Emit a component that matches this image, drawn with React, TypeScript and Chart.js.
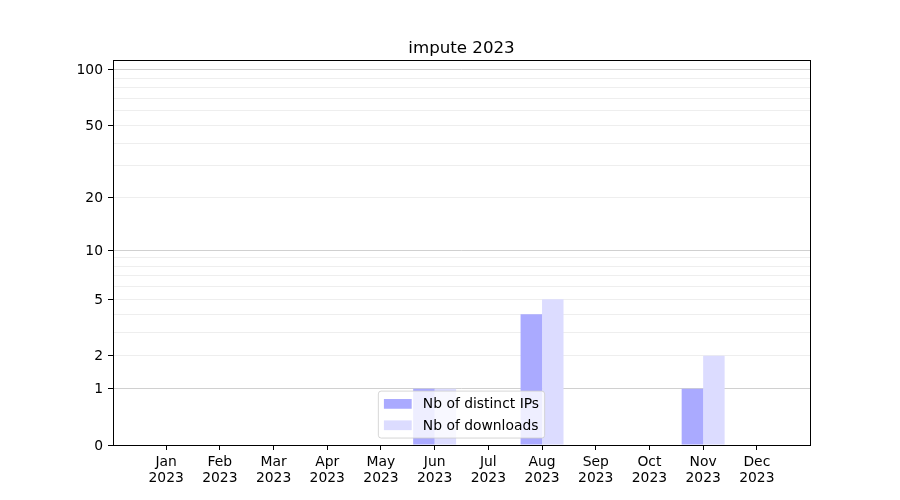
import React, { useEffect, useRef } from 'react';
import { Chart, registerables, LinearScale } from 'chart.js';

// ---------- data ----------
const TITLE = 'impute 2023';
const MONTHS = ['Jan', 'Feb', 'Mar', 'Apr', 'May', 'Jun', 'Jul', 'Aug', 'Sep', 'Oct', 'Nov', 'Dec'];
const YEAR = '2023';
const SERIES_LABELS = ['Nb of distinct IPs', 'Nb of downloads'];
const DISTINCT_IPS = [0, 0, 0, 0, 0, 1, 0, 4, 0, 0, 1, 0];
const DOWNLOADS = [0, 0, 0, 0, 0, 1, 0, 5, 0, 0, 2, 0];
const Y_LABELED_TICKS = [0, 1, 2, 5, 10, 20, 50, 100];
const Y_MAJOR_GRID = [1, 10, 100];
const Y_MINOR_GRID = [2, 3, 4, 5, 6, 7, 8, 9, 20, 30, 40, 50, 60, 70, 80, 90];
const Y_MIN = 0;
const Y_MAX = 113;
const X_MIN = -0.99;
const X_MAX = 11.99;

const COLORS = ['#aaaaff', '#dcdcff'];
const FONT = '"DejaVu Sans", "Liberation Sans", sans-serif';
const FS = 13.89;
const TITLE_FS = 16.67;

const ALL_Y_TICKS = Array.from(new Set([0, ...Y_MAJOR_GRID, ...Y_MINOR_GRID])).sort((a, b) => a - b);

// ---------- log(1+x) scale ----------
class Log1pScale extends LinearScale {
  static id = 'log1p';
  static defaults = {};

  configure() {
    super.configure();
    (this as any)._t0 = Math.log10(1 + (this as any).min);
    (this as any)._t1 = Math.log10(1 + (this as any).max);
  }

  buildTicks() {
    const self = this as any;
    self.start = self.min;
    self.end = self.max;
    return ALL_Y_TICKS.filter((v) => v >= self.min && v <= self.max).map((v) => ({ value: v }));
  }

  getPixelForValue(value: any) {
    if (value === null || value === undefined || isNaN(value)) return NaN;
    const self = this as any;
    const t = Math.log10(1 + value);
    return this.getPixelForDecimal((t - self._t0) / (self._t1 - self._t0));
  }

  getValueForPixel(pixel: number) {
    const self = this as any;
    const d = this.getDecimalForPixel(pixel);
    return Math.pow(10, self._t0 + d * (self._t1 - self._t0)) - 1;
  }
}

Chart.register(...registerables, Log1pScale);

// ---------- title + frame + legend plugin ----------
const frameLegendPlugin = {
  id: 'frameLegend',
  afterDraw(chart: any) {
    const { ctx, chartArea: a } = chart;
    ctx.save();
    // spines
    ctx.strokeStyle = '#000';
    ctx.lineWidth = 1;
    const l = Math.floor(a.left) + 0.5;
    const t = Math.floor(a.top) + 0.5;
    const r = Math.floor(a.right) + 0.5;
    const b = Math.floor(a.bottom) + 0.5;
    ctx.strokeRect(l, t, r - l, b - t);

    // title centred over the axes
    ctx.font = `${TITLE_FS}px ${FONT}`;
    ctx.fillStyle = '#000';
    ctx.textAlign = 'center';
    ctx.textBaseline = 'alphabetic';
    ctx.fillText(TITLE, (a.left + a.right) / 2, a.top - 7.5);

    // legend (lower center, inside axes)
    ctx.font = `${FS}px ${FONT}`;
    const pad = 0.4 * FS;
    const handleLen = 2 * FS;
    const handleH = 0.7 * FS;
    const textPad = 0.8 * FS;
    const spacing = 0.5 * FS;
    const rowH = 14.45;
    const axesPad = 0.5 * FS;
    const items = chart.data.datasets.map((ds: any) => ({ label: ds.label, color: ds.backgroundColor }));
    const textW = Math.max(...items.map((it: any) => ctx.measureText(it.label).width));
    const w = pad * 2 + handleLen + textPad + textW;
    const h = pad * 2 + items.length * rowH + (items.length - 1) * spacing;
    const x0 = (a.left + a.right) / 2 - w / 2;
    const y0 = a.bottom - axesPad - h;
    ctx.beginPath();
    ctx.roundRect(x0, y0, w, h, 2.8);
    ctx.fillStyle = 'rgba(255,255,255,0.8)';
    ctx.fill();
    ctx.strokeStyle = 'rgba(204,204,204,0.8)';
    ctx.lineWidth = 1;
    ctx.stroke();
    items.forEach((it: any, i: number) => {
      const cy = y0 + pad + i * (rowH + spacing) + rowH / 2;
      ctx.fillStyle = it.color;
      ctx.fillRect(x0 + pad, cy - handleH / 2, handleLen, handleH);
      ctx.fillStyle = '#000';
      ctx.textAlign = 'left';
      ctx.textBaseline = 'middle';
      ctx.fillText(it.label, x0 + pad + handleLen + textPad, cy + 1);
    });
    ctx.restore();
  },
};

export default function App() {
  const canvasRef = useRef<HTMLCanvasElement | null>(null);

  useEffect(() => {
    const canvas = canvasRef.current;
    if (!canvas) return;
    const chart = new Chart(canvas, {
      type: 'bar',
      data: {
        datasets: [
          {
            label: SERIES_LABELS[0],
            data: DISTINCT_IPS.map((v, i) => ({ x: i, y: v })),
            backgroundColor: COLORS[0],
            borderWidth: 0,
          },
          {
            label: SERIES_LABELS[1],
            data: DOWNLOADS.map((v, i) => ({ x: i, y: v })),
            backgroundColor: COLORS[1],
            borderWidth: 0,
          },
        ],
      },
      options: {
        animation: false,
        responsive: false,
        devicePixelRatio: 1,
        events: [],
        layout: { padding: { left: 0, right: 90, top: 60, bottom: 0 } },
        datasets: { bar: { categoryPercentage: 0.8, barPercentage: 1.0 } },
        plugins: {
          legend: { display: false },
          tooltip: { enabled: false },
          title: { display: false },
        },
        scales: {
          x: {
            type: 'linear',
            min: X_MIN,
            max: X_MAX,
            offset: false,
            border: { display: false },
            grid: {
              display: true,
              offset: false,
              drawOnChartArea: false,
              drawTicks: true,
              tickLength: 5,
              tickColor: '#000',
              tickWidth: 1,
            },
            afterBuildTicks: (scale: any) => {
              scale.ticks = MONTHS.map((_, i) => ({ value: i }));
            },
            afterFit: (scale: any) => {
              scale.height = 55;
            },
            ticks: {
              autoSkip: false,
              maxRotation: 0,
              minRotation: 0,
              padding: 4,
              color: '#000',
              font: { family: FONT, size: FS, lineHeight: 1.15 },
              callback: (value: any) => {
                const i = Math.round(Number(value));
                return MONTHS[i] !== undefined ? [MONTHS[i], YEAR] : '';
              },
            },
          },
          y: {
            type: 'log1p' as any,
            min: Y_MIN,
            max: Y_MAX,
            z: 1,
            border: { display: false },
            grid: {
              display: true,
              drawTicks: true,
              tickLength: 5,
              lineWidth: 1,
              tickWidth: 1,
              color: (c: any) => {
                const v = c.tick ? c.tick.value : NaN;
                if (Y_MAJOR_GRID.includes(v)) return 'rgba(176,176,176,0.6)';
                if (Y_MINOR_GRID.includes(v)) return 'rgba(176,176,176,0.22)';
                return 'rgba(0,0,0,0)';
              },
              tickColor: (c: any) => {
                const v = c.tick ? c.tick.value : NaN;
                return Y_LABELED_TICKS.includes(v) ? '#000' : 'rgba(0,0,0,0)';
              },
            },
            afterFit: (scale: any) => {
              scale.width = 113;
            },
            ticks: {
              autoSkip: false,
              padding: 5,
              labelOffset: 1,
              color: '#000',
              font: { family: FONT, size: FS },
              callback: (value: any) => (Y_LABELED_TICKS.includes(Number(value)) ? String(value) : ''),
            },
          },
        },
      },
      plugins: [frameLegendPlugin],
    } as any);
    return () => chart.destroy();
  }, []);

  return (
    <div style={{ position: 'absolute', left: 0, top: 0, width: 900, height: 500, background: '#fff' }}>
      <canvas ref={canvasRef} width={900} height={500} style={{ width: 900, height: 500 }} />
    </div>
  );
}
